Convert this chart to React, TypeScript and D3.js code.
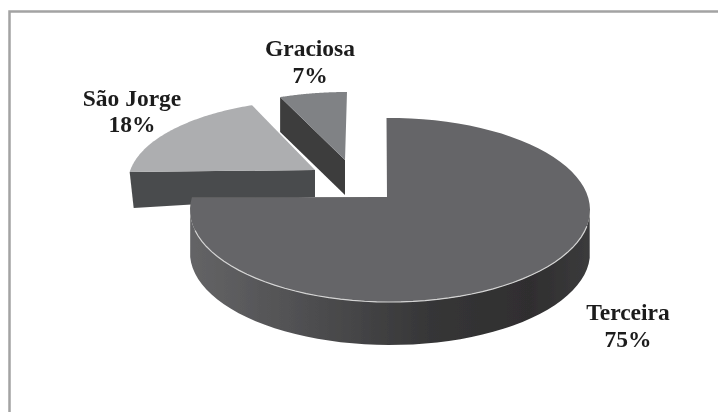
import React from "react";
import * as d3 from "d3";

const categories = ["Terceira", "São Jorge", "Graciosa"];
const shares = [75, 18, 7];
const labelLines = [["Terceira", "75%"], ["São Jorge", "18%"], ["Graciosa", "7%"]];

const W = 718, H = 412;
type G = { apex: [number, number]; c: [number, number]; rx: number; ry: number; depth: number; e0: number; e1: number; top: string; side: string };
const geom: G[] = [
  { apex: [387, 197], c: [390, 210], rx: 200, ry: 92, depth: 43, e0: -1, e1: 8, top: "#656567", side: "url(#sideGrad)" },
  { apex: [315, 170], c: [318, 183], rx: 190, ry: 83, depth: 36, e0: 7.6, e1: 4.9, top: "#adaeb0", side: "#4a4b4d" },
  { apex: [345, 160], c: [347, 172], rx: 190, ry: 80, depth: 35, e0: 4.6, e1: 0, top: "#808285", side: "#3c3c3d" },
];
const labelPos: [number, number][] = [[628, 320], [132, 106], [310, 56]];
const labelGap = [27, 26, 27];

const arcs = d3.pie<number>().sort(null).value((d) => d)(shares);
const line = d3.line<[number, number]>().curve(d3.curveLinear);
const rad = Math.PI / 180;

function rim(g: G, a0: number, a1: number): [number, number][] {
  const ts = d3.range(0, 1.0001, 1 / 80);
  return ts.map((t) => {
    const e = a0 + (a1 - a0) * t + (g.e0 + (g.e1 - g.e0) * t) * rad;
    return [g.c[0] + g.rx * Math.sin(e), g.c[1] - g.ry * Math.cos(e)] as [number, number];
  });
}

export default function App() {
  const [terc, sj, gr] = arcs;
  const gT = geom[0], gS = geom[1], gG = geom[2];
  const rimT = rim(gT, terc.startAngle, terc.endAngle);
  const rimS = rim(gS, sj.startAngle, sj.endAngle);
  const rimG = rim(gG, gr.startAngle, gr.endAngle);
  const lowerFront = rimT.filter((p) => p[1] >= gT.c[1]);
  const lowerBack = [...lowerFront].reverse().map((p) => [p[0], p[1] + gT.depth] as [number, number]);
  const rimLine = rimT.filter((p) => p[1] >= gT.c[1] + 16);
  const gStart = rimG[0];
  const sStart = rimS[0];
  return (
    <svg width={W} height={H} style={{ position: "absolute", left: 0, top: 0, background: "#fff" }}>
      <defs>
        <linearGradient id="sideGrad" x1="0" x2="1" y1="0" y2="0">
          <stop offset="0" stopColor="#646466" />
          <stop offset="0.3" stopColor="#4e4e50" />
          <stop offset="0.6" stopColor="#363637" />
          <stop offset="0.85" stopColor="#2f2e2f" />
          <stop offset="1" stopColor="#3b3b3c" />
        </linearGradient>
        <filter id="soft" x="-5%" y="-5%" width="110%" height="110%">
          <feGaussianBlur stdDeviation="0.5" />
        </filter>
        <filter id="softText" x="-5%" y="-5%" width="110%" height="110%">
          <feGaussianBlur stdDeviation="0.3" />
        </filter>
      </defs>
      <path d="M9.5 412V11.5H718" fill="none" stroke="#a3a3a3" strokeWidth={2.5} />
      <g filter="url(#soft)">
        <path
          d={`M${sStart[0]} ${sStart[1]}L${gS.apex[0]} ${gS.apex[1]}L${gS.apex[0]} ${gS.apex[1] + 27}L${sStart[0] + 4} ${sStart[1] + gS.depth}Z`}
          fill={gS.side}
        />
        <path d={line(rimS)! + `L${gS.apex[0]} ${gS.apex[1]}Z`} fill={gS.top} />
        <path
          d={`M${gStart[0]} ${gStart[1]}L${gG.apex[0]} ${gG.apex[1]}L${gG.apex[0]} ${gG.apex[1] + gG.depth}L${gStart[0]} ${gStart[1] + gG.depth}Z`}
          fill={gG.side}
        />
        <path d={line(rimG)! + `L${gG.apex[0]} ${gG.apex[1]}Z`} fill={gG.top} />
        <path d={line(lowerFront)! + line(lowerBack)!.replace(/^M/, "L") + "Z"} fill={gT.side} />
        <path d={line(rimT)! + `L${gT.apex[0]} ${gT.apex[1]}Z`} fill={gT.top} />
        <path d={line(rimLine)!} fill="none" stroke="#d4d4d4" strokeWidth={1.2} />
      </g>
      <g filter="url(#softText)">
        {labelLines.map((ls, i) => (
          <text
            key={categories[i]}
            textAnchor="middle"
            fontFamily="'Liberation Serif', serif"
            fontWeight="bold"
            fontSize={23.5}
            fill="#1c1c1c"
            x={labelPos[i][0]}
            y={labelPos[i][1]}
          >
            <tspan x={labelPos[i][0]} dy={0}>{ls[0]}</tspan>
            <tspan x={labelPos[i][0]} dy={labelGap[i]}>{ls[1]}</tspan>
          </text>
        ))}
      </g>
    </svg>
  );
}
